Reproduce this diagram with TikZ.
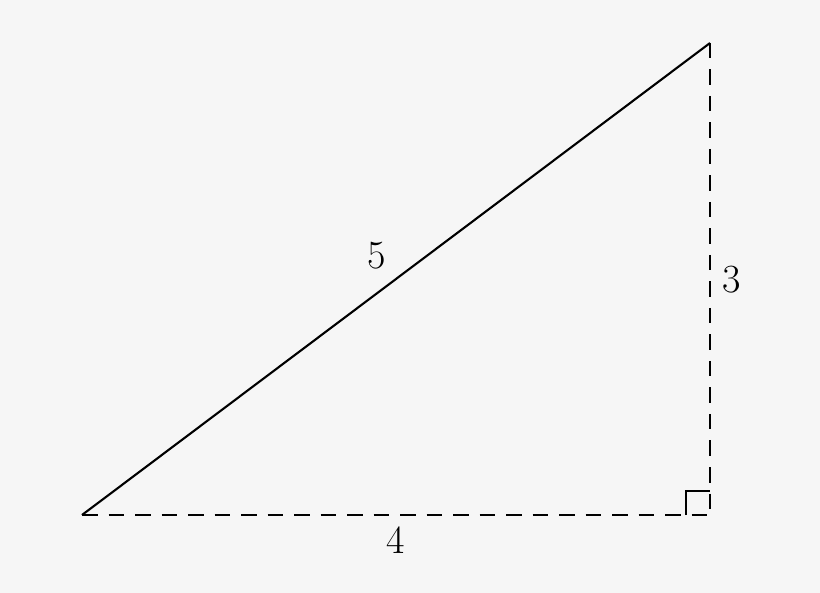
\documentclass[tikz,border=0pt]{standalone}
\definecolor{bgcol}{HTML}{F6F6F6}
\begin{document}
\begin{tikzpicture}[x=0.5pt,y=-0.5pt,
  edge/.style={line width=1.05pt,line cap=butt,black},
  dashedge/.style={edge,dash pattern=on 7.75pt off 5.5pt},
  lbl/.style={inner sep=0pt,font=\fontsize{20}{24}\selectfont}]
\fill[bgcol] (0,0) rectangle (820,593);
\useasboundingbox (0,0) rectangle (820,593);
\coordinate (A) at (82,515);
\coordinate (B) at (710,515);
\coordinate (C) at (710,43);
\coordinate (Q1) at (686,515);
\coordinate (Q2) at (686,491);
\coordinate (Q3) at (710,491);
\draw[edge] (A) -- (C);
\draw[dashedge] (A) -- (B);
\draw[dashedge] (C) -- (B);
\draw[edge] (Q1) -- (Q2) -- (Q3);
\node[lbl] (l5) at (377,256) {5};
\node[lbl] (l3) at (732,280) {3};
\node[lbl] (l4) at (396,540) {4};
\end{tikzpicture}
\end{document}
